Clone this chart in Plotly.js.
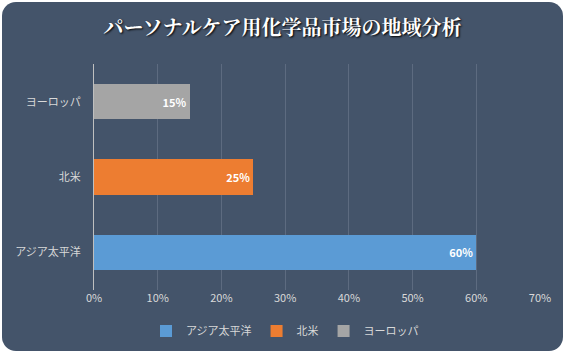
<!DOCTYPE html>
<html><head><meta charset="utf-8">
<script src="https://cdn.plot.ly/plotly-3.0.1.min.js"></script>
<style>
html,body{margin:0;padding:0;background:#fff;}
#wrap{position:absolute;left:2px;top:2px;width:561px;height:349px;background:#44546a;border-radius:14px;overflow:hidden;}
#chart{position:absolute;left:-2px;top:-2px;width:565px;height:355px;}
</style></head>
<body><div id="wrap"><div id="chart"></div></div>
<script>
const categories = ['アジア太平洋','北米','ヨーロッパ'];
const values = [60, 25, 15];
const colors = ['#5b9bd5','#ed7d31','#a5a5a5'];
const tickVals = [0,10,20,30,40,50,60,70];
const tickText = ['0%','10%','20%','30%','40%','50%','60%','70%'];

const traces = categories.map((c,i)=>({
  type:'bar', orientation:'h', name:c,
  y:[c], x:[values[i]], width:0.47,
  marker:{color:colors[i], line:{width:0}},
  text:[values[i]+'%'], textposition:'inside', insidetextanchor:'end', textangle:0,
  textfont:{color:'#ffffff', size:11, family:'Noto Sans CJK JP', weight:'bold'},
  hoverinfo:'none', cliponaxis:false
}));

const layout = {
  width:565, height:355,
  paper_bgcolor:'rgba(0,0,0,0)', plot_bgcolor:'rgba(0,0,0,0)',
  margin:{l:94, r:25, t:64, b:65, autoexpand:false},
  barmode:'stack',
  title:{text:'パーソナルケア用化学品市場の地域分析', x:0.5, xanchor:'center', y:1-28/355, yanchor:'middle', yref:'container',
    font:{family:'Noto Serif CJK JP, Noto Sans CJK JP', size:20, color:'#ffffff', weight:'bold', shadow:'1px 1px 2px #000'}},
  xaxis:{range:[0,70], tickvals:tickVals, ticktext:tickText, showgrid:true, gridcolor:'#5d6b80', gridwidth:1,
    zeroline:false, showline:false, ticks:'', tickangle:0, automargin:false, tickfont:{family:'Noto Sans CJK JP', size:11, color:'#d9d9d9'}, fixedrange:true},
  yaxis:{type:'category', categoryorder:'array', categoryarray:categories, showgrid:false, zeroline:false, automargin:false,
    showline:true, linecolor:'#bfbfbf', linewidth:1, ticks:'', ticklabelstandoff:10,
    tickfont:{family:'Noto Sans CJK JP', size:11, color:'#d9d9d9'}},
  showlegend:true,
  legend:{orientation:'h', x:(285-94)/446, xanchor:'center', y:(290-331)/226, yanchor:'middle', itemwidth:30,
    font:{family:'Noto Sans CJK JP', size:11, color:'#d9d9d9'}, traceorder:'normal', bgcolor:'rgba(0,0,0,0)'}
};
Plotly.newPlot('chart', traces, layout, {displayModeBar:false, staticPlot:true});
</script></body></html>
